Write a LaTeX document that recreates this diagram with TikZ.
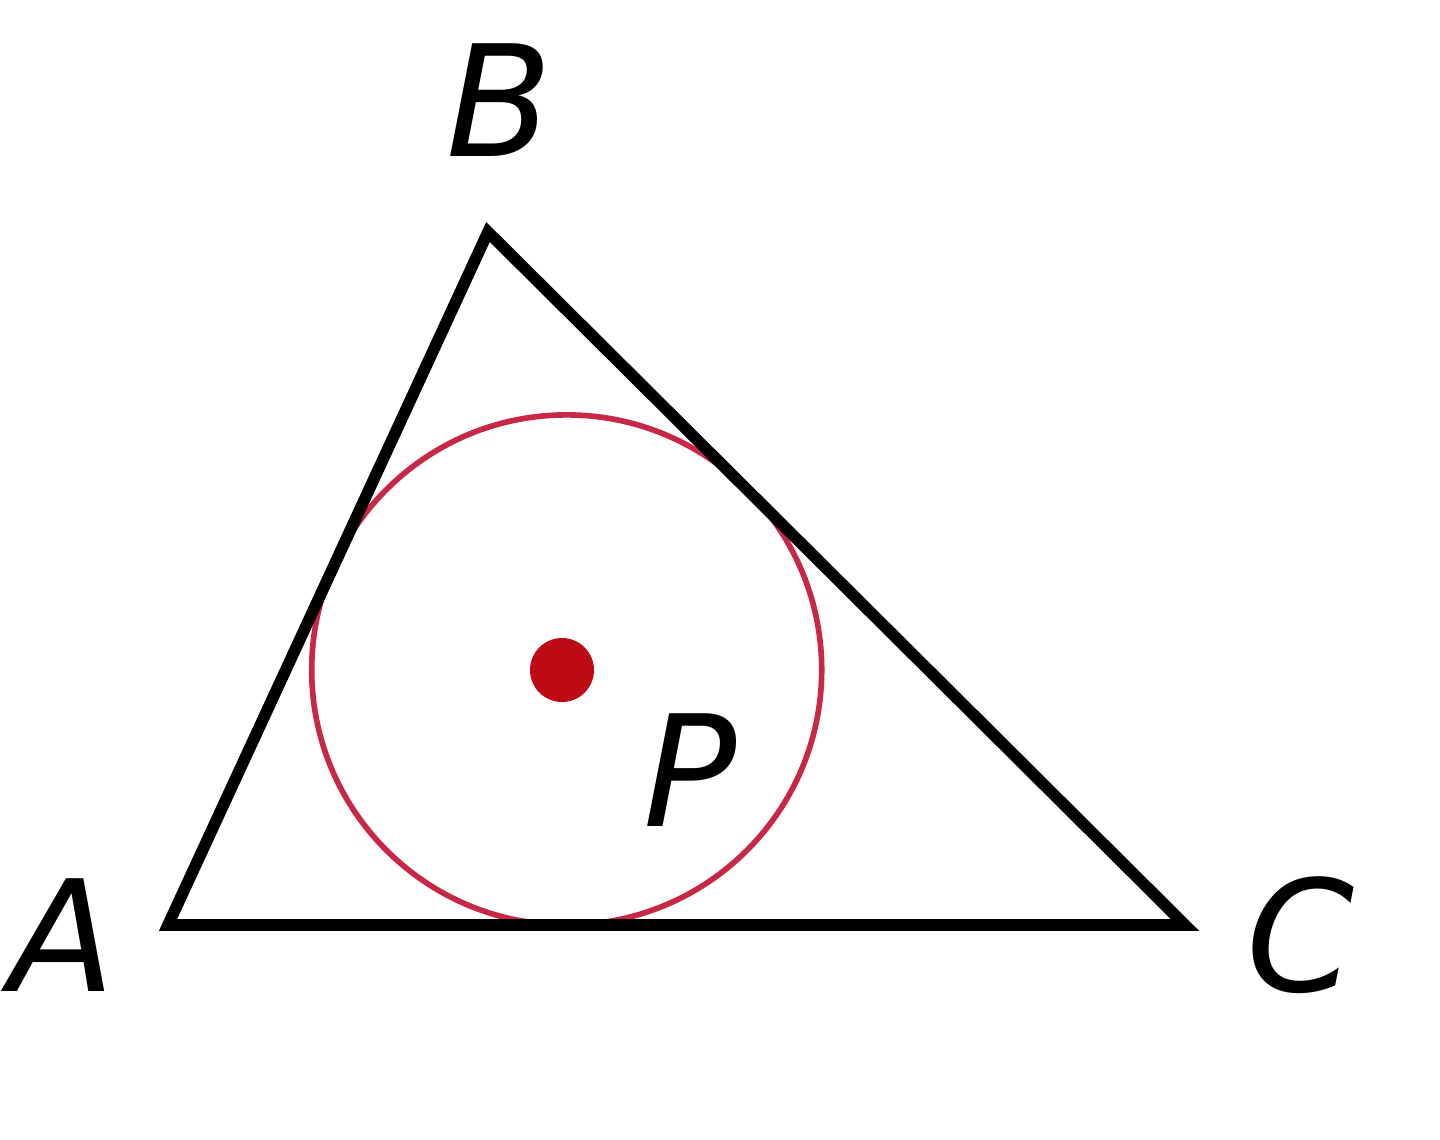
\documentclass[tikz,border=0pt]{standalone}
\usepackage{fontspec}
\setmainfont{DejaVu Sans}
\usetikzlibrary{calc}
\definecolor{circred}{RGB}{200,40,70}
\definecolor{dotred}{RGB}{190,10,20}
\begin{document}
\begin{tikzpicture}[x=0.01cm,y=-0.01cm,
  side/.style={line width=3.3pt, line join=miter},
  incirc/.style={draw=circred, line width=1.6pt},
  lab/.style={font=\fontsize{44}{50}\selectfont\itshape, inner sep=0pt}]
\useasboundingbox (0,0) rectangle (1440,1140);
\coordinate (A) at (168,925);
\coordinate (B) at (488,232);
\coordinate (C) at (1185,925);
\coordinate (I) at (566.7,669.9);
\draw[incirc] (I) circle (255);
\draw[side] (A) -- (B) -- (C) -- cycle;
\fill[dotred] (562,670) circle (32);
\node[lab] (lB) at (500,100) {B};
\node[lab] (lA) at (62,935) {A};
\node[lab] (lC) at (1300,935) {C};
\node[lab] (lP) at (690,770) {P};
\end{tikzpicture}
\end{document}
